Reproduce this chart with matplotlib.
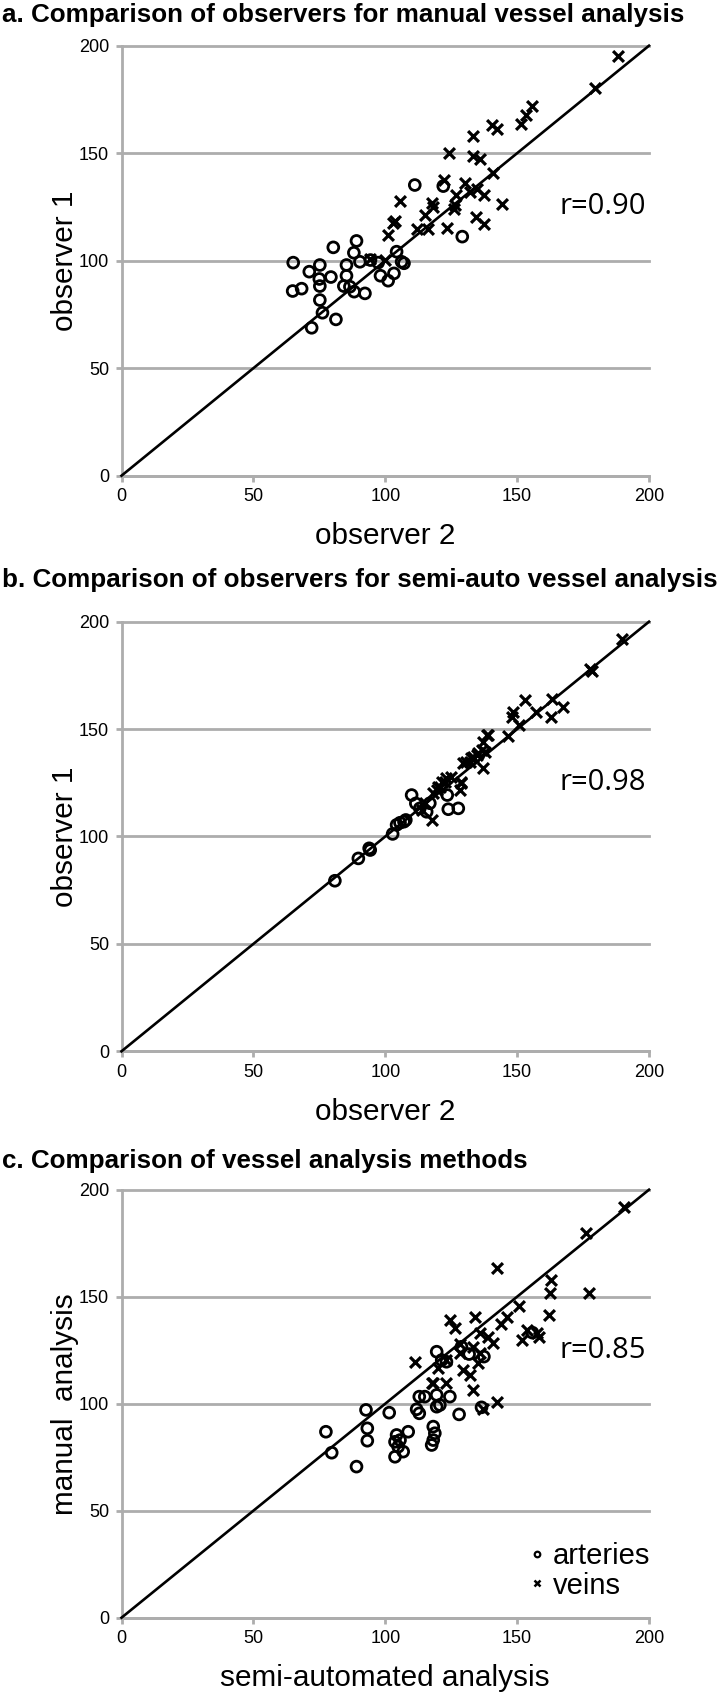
import numpy as np
import matplotlib
matplotlib.use('Agg')
import matplotlib.pyplot as plt
from matplotlib import font_manager as fm
from matplotlib.lines import Line2D

# panel a: manual analysis, observer 2 (x) vs observer 1 (y)
a_art_x = [65.1, 64.9, 68.3, 71.2, 72.1, 75.2, 75.0, 75.2, 75.2, 76.2, 79.4, 80.3, 81.3, 85.3, 85.3, 84.3, 86.6,
           88.1, 89.1, 88.2, 90.4, 92.3, 94.4, 98.2, 101.1, 103.3, 104.3, 106.2, 107.1, 111.2, 129.2, 122.0, 97.3]
a_art_y = [99.1, 85.9, 87.0, 94.9, 68.8, 98.0, 91.5, 88.2, 81.7, 75.8, 92.4, 106.2, 72.7, 98.0, 93.0, 88.2, 87.9,
           103.7, 109.2, 85.6, 99.5, 84.8, 100.3, 93.0, 90.7, 94.1, 104.2, 99.5, 98.8, 135.2, 111.2, 134.7, 99.1]
a_vein_x = [188.1, 179.5, 155.5, 153.2, 151.3, 140.3, 142.2, 133.3, 124.2, 133.3, 135.9, 140.7, 122.2, 130.2,
            134.6, 132.1, 126.8, 137.4, 117.6, 118.2, 126.4, 126.0, 144.1, 105.6, 115.0, 111.9, 116.3, 123.3,
            103.0, 103.8, 134.4, 137.4, 100.9, 94.2, 99.9]
a_vein_y = [195.2, 180.2, 172.0, 167.8, 163.4, 163.1, 161.1, 158.0, 150.2, 148.7, 147.2, 140.9, 137.5, 136.0,
            133.2, 132.1, 130.6, 130.6, 127.0, 125.1, 125.9, 123.9, 126.2, 127.9, 121.3, 114.6, 114.6, 115.1,
            117.7, 118.5, 120.2, 117.1, 112.0, 100.6, 100.3]

# panel b: semi-auto analysis, observer 2 (x) vs observer 1 (y)
b_art_x = [80.9, 89.8, 94.3, 93.9, 102.8, 104.3, 105.6, 107.1, 107.8, 110.0, 111.6, 113.1, 115.7, 123.5,
           123.9, 127.7, 116.9]
b_art_y = [79.4, 89.8, 93.7, 94.5, 101.2, 105.4, 106.4, 106.9, 107.7, 119.3, 115.4, 113.1, 111.5, 119.3,
           112.7, 113.1, 115.5]
b_vein_x = [189.6, 177.6, 178.4, 163.4, 167.5, 163.0, 152.9, 148.3, 147.9, 157.1, 150.8, 146.6, 139.0, 137.1,
            137.8, 135.2, 133.3, 137.1, 132.1, 129.5, 128.9, 128.3, 125.1, 122.6, 120.1, 118.2, 117.6, 115.0,
            138.6, 136.5, 134.6, 132.7, 130.8, 128.6, 123.2, 121.4, 119.5, 113.8, 120.7]
b_vein_y = [191.8, 177.8, 177.2, 163.9, 160.1, 155.8, 163.5, 158.1, 155.8, 158.1, 151.9, 146.8, 147.3, 144.1,
            139.5, 138.7, 137.2, 131.8, 134.8, 134.1, 125.5, 121.6, 127.8, 125.5, 123.2, 120.1, 107.7, 115.5,
            147.3, 140.3, 137.9, 136.4, 134.8, 124.8, 127.1, 125.5, 121.6, 112.3, 123.2]

# panel c: semi-automated (x) vs manual (y)
c_art_x = [119.5, 92.7, 101.5, 77.5, 79.7, 93.2, 93.2, 89.1, 112.9, 115.0, 111.9, 112.9, 119.5, 119.5, 104.3,
           103.7, 105.6, 108.7, 106.8, 103.7, 104.9, 118.2, 118.8, 118.2, 117.6, 120.7, 124.5, 128.0, 136.5,
           131.8, 137.4, 128.9, 121.4, 123.2, 155.8]
c_art_y = [124.3, 97.1, 95.8, 86.9, 77.1, 88.5, 82.7, 70.6, 103.3, 103.3, 97.4, 95.5, 98.6, 104.1, 85.4,
           82.2, 83.0, 86.9, 77.6, 75.2, 79.9, 89.3, 86.2, 83.0, 80.7, 99.4, 103.3, 95.0, 98.3,
           123.2, 122.0, 126.6, 120.4, 119.6, 133.2]
c_vein_x = [190.5, 176.3, 142.2, 162.7, 162.4, 177.3, 162.1, 150.8, 146.0, 143.7, 134.0, 124.5, 126.4, 135.9,
            153.6, 151.7, 158.4, 157.4, 140.9, 139.0, 128.3, 133.3, 135.9, 135.2, 129.5, 132.1, 111.2, 120.1,
            123.2, 117.6, 123.2, 133.3, 142.2, 137.1, 118.2, 128.3]
c_vein_y = [192.1, 179.6, 163.6, 157.8, 151.6, 151.6, 141.4, 145.7, 140.7, 137.2, 140.7, 139.1, 135.2, 132.9,
            134.4, 129.8, 131.3, 132.9, 128.2, 131.3, 127.9, 126.6, 123.5, 118.9, 115.7, 113.4, 119.6, 116.5,
            120.4, 109.8, 109.8, 106.4, 100.9, 97.4, 109.5, 123.5]

titles = ["a. Comparison of observers for manual vessel analysis",
          "b. Comparison of observers for semi-auto vessel analysis",
          "c. Comparison of vessel analysis methods"]
xlabels = ["observer 2", "observer 2", "semi-automated analysis"]
ylabels = ["observer 1", "observer 1", "manual  analysis"]
r_texts = ["r=0.90", "r=0.98", "r=0.85"]
ticks = [0, 50, 100, 150, 200]


def _has_font(name):
    try:
        fm.findfont(fm.FontProperties(family=name), fallback_to_default=False)
        return True
    except ValueError:
        return False


HAS_NARROW = _has_font('Liberation Sans Narrow')
NARROW = 'Liberation Sans Narrow' if HAS_NARROW else 'Liberation Sans'
REG = 'Liberation Sans'
GRAY = '#adadad'
tick_size = 15 if HAS_NARROW else 13
title_size = 22 if HAS_NARROW else 18.7

W, H = 719, 1693
fig = plt.figure(figsize=(W / 100, H / 100), dpi=100)

# axes boxes in pixels: (top, bottom)
boxes = [(45.7, 475.7), (621.7, 1051.3), (1189.7, 1617.7)]
title_base = [22, 586.7, 1168.3]
left_px, right_px = 121.5, 649

panels = [(a_art_x, a_art_y, a_vein_x, a_vein_y),
          (b_art_x, b_art_y, b_vein_x, b_vein_y),
          (c_art_x, c_art_y, c_vein_x, c_vein_y)]

for i, (ax_, ay_, vx_, vy_) in enumerate(panels):
    top, bot = boxes[i]
    ax = fig.add_axes([left_px / W, 1 - bot / H, (right_px - left_px) / W, (bot - top) / H])
    ax.set_xlim(0, 200)
    ax.set_ylim(0, 200)

    ax.set_yticks(ticks)
    ax.set_xticks(ticks)
    ax.yaxis.grid(True, color=GRAY, linewidth=2.0)
    ax.set_axisbelow(True)
    for gl in ax.get_ygridlines():
        gl.set_clip_on(False)
    for s in ['top', 'right']:
        ax.spines[s].set_visible(False)
    for s in ['left', 'bottom']:
        ax.spines[s].set_color(GRAY)
        ax.spines[s].set_linewidth(2.0)
    ax.tick_params(axis='both', direction='out', length=4, width=2.0, color=GRAY, pad=5)
    for lab in ax.get_xticklabels() + ax.get_yticklabels():
        lab.set_fontfamily(NARROW)
        lab.set_fontsize(tick_size)

    lims = np.array(ax.get_xlim())
    ax.plot(lims, lims, color='black', linewidth=1.9, clip_on=False, zorder=3)

    ax.scatter(ax_, ay_, s=7.8 ** 2, facecolors='none', edgecolors='black', linewidths=2.0, zorder=4,
               clip_on=False)
    ax.scatter(vx_, vy_, s=7.8 ** 2, marker='x', color='black', linewidths=2.3, zorder=4, clip_on=False)

    ax.text(199, 125, r_texts[i], fontfamily='Open Sans', fontsize=21, ha='right', va='center')

    ax.set_xlabel(xlabels[i], fontfamily=REG, fontsize=21.4)
    ax.set_ylabel(ylabels[i], fontfamily=REG, fontsize=21.4)
    ax.xaxis.set_label_coords(0.5, -0.108)
    ax.yaxis.set_label_coords(-0.080, 0.5)

    fig.text(2 / W, 1 - title_base[i] / H, titles[i], fontfamily=NARROW, fontweight='bold',
             fontsize=title_size, ha='left', va='baseline')

    if i == 2:
        handles = [Line2D([], [], linestyle='none', marker='o', markersize=4.0, markerfacecolor='none',
                          markeredgecolor='black', markeredgewidth=1.6),
                   Line2D([], [], linestyle='none', marker='x', markersize=4.0, color='black',
                          markeredgewidth=1.8)]
        ax.legend(handles, ['arteries', 'veins'], loc='center left', bbox_to_anchor=(0.776, 0.1095),
                  frameon=False, prop={'family': REG, 'size': 21}, handlelength=0.4, handletextpad=0.35,
                  borderpad=0, borderaxespad=0, labelspacing=0.05)

plt.savefig('out.png', dpi=100)
plt.close()
